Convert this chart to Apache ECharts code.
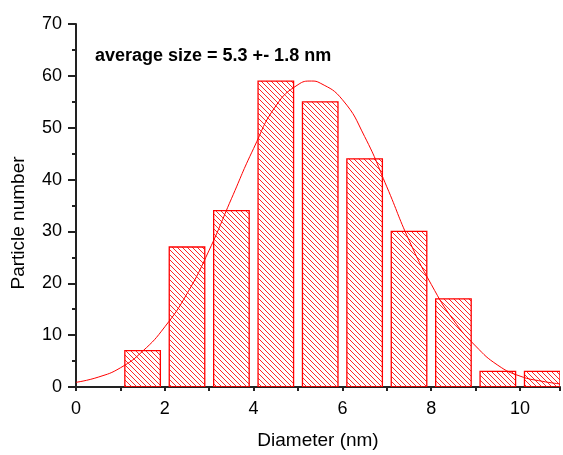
<!DOCTYPE html>
<html>
<head>
<meta charset="utf-8">
<script src="https://cdn.jsdelivr.net/npm/echarts@6/dist/echarts.min.js"></script>
<style>
  html, body { margin: 0; padding: 0; background: #fff; }
  #chart { width: 563px; height: 455px; }
</style>
</head>
<body>
<div id="chart"></div>
<script>
// histogram bins (centre of each bin) and counts
var binCentres = [1.5, 2.5, 3.5, 4.5, 5.5, 6.5, 7.5, 8.5, 9.5, 10.5];
var binCounts  = [7, 27, 34, 59, 55, 44, 30, 17, 3, 3];
var binWidth = 0.8;

// fitted curve
var fitX = [0, 0.5, 1, 1.5, 2, 2.5, 3, 3.5, 4, 4.5, 5, 5.3, 5.5, 6, 6.5, 7, 7.5, 8, 8.5, 9, 9.5, 10, 10.5, 10.9];
var fitY = [0.9, 1.9, 3.7, 6.9, 11.6, 18.0, 26.4, 36.3, 46.0, 54.2, 58.3, 59.0, 58.6, 55.4, 48.3, 38.6, 28.3, 19.8, 12.9, 7.9, 4.2, 2.1, 1.1, 0.6];

var xTicks = [0, 2, 4, 6, 8, 10];
var yTicks = [0, 10, 20, 30, 40, 50, 60, 70];

var RED = '#ff0000';

// hatch tile  (\\\ diagonal)
function makeHatch() {
  var c = document.createElement('canvas');
  var s = 5;
  c.width = s; c.height = s;
  var ctx = c.getContext('2d');
  ctx.strokeStyle = 'rgba(255,0,0,0.85)';
  ctx.lineWidth = 1;
  ctx.beginPath();
  ctx.moveTo(-1, -1); ctx.lineTo(s + 1, s + 1);
  ctx.moveTo(-1, s - 1); ctx.lineTo(1, s + 1);
  ctx.moveTo(s - 1, -1); ctx.lineTo(s + 1, 1);
  ctx.stroke();
  return c;
}
var hatch = { image: makeHatch(), repeat: 'repeat' };

var barData = [];
for (var i = 0; i < binCentres.length; i++) {
  barData.push([binCentres[i], binCounts[i]]);
}
var fitData = [];
for (var i = 0; i < fitX.length; i++) {
  fitData.push([fitX[i], fitY[i]]);
}

var chart = echarts.init(document.getElementById('chart'), null, { renderer: 'canvas' });

chart.setOption({
  animation: false,
  grid: { left: 76, right: 1, top: 24, bottom: 63, containLabel: false },
  xAxis: {
    type: 'value',
    min: 0, max: 10.9, interval: 2,
    name: 'Diameter (nm)',
    nameLocation: 'middle',
    nameGap: 44,
    nameTextStyle: { fontFamily: 'Liberation Sans', fontSize: 19, color: '#000', verticalAlign: 'top' },
    axisLine: { show: true, onZero: false, lineStyle: { color: '#222', width: 2 } },
    axisTick: { show: true, length: 4, lineStyle: { color: '#222', width: 2 } },
    minorTick: { show: true, splitNumber: 2, length: 4, lineStyle: { color: '#222', width: 2 } },
    axisLabel: {
      fontFamily: 'Liberation Sans', fontSize: 18, color: '#000', margin: 13,
      formatter: function (v) { return xTicks.indexOf(v) >= 0 ? String(v) : ''; }
    },
    splitLine: { show: false }
  },
  yAxis: {
    type: 'value',
    min: 0, max: 70, interval: 10,
    axisLine: { show: true, onZero: false, lineStyle: { color: '#222', width: 2 } },
    axisTick: { show: true, length: 8, lineStyle: { color: '#222', width: 2 } },
    minorTick: { show: true, splitNumber: 2, length: 4, lineStyle: { color: '#222', width: 2 } },
    axisLabel: {
      fontFamily: 'Liberation Sans', fontSize: 18, color: '#000', margin: 14,
      formatter: function (v) { return yTicks.indexOf(v) >= 0 ? String(v) : ''; }
    },
    splitLine: { show: false }
  },
  graphic: [
    {
      type: 'text', x: 19, y: 223, rotation: Math.PI / 2,
      style: {
        text: 'Particle number', font: '19px "Liberation Sans"', fill: '#000',
        textAlign: 'center', textVerticalAlign: 'middle'
      }
    },
    {
      type: 'text', left: 95, top: 47,
      style: {
        text: 'average size = 5.3 +- 1.8 nm', font: 'bold 18px "Liberation Sans"', fill: '#000'
      }
    }
  ],
  series: [
    {
      type: 'custom',
      clip: true,
      data: barData,
      renderItem: function (params, api) {
        var c = api.value(0), v = api.value(1);
        var p0 = api.coord([c - binWidth / 2, v]);
        var p1 = api.coord([c + binWidth / 2, 0]);
        return {
          type: 'rect',
          shape: { x: p0[0], y: p0[1], width: p1[0] - p0[0], height: p1[1] - p0[1] },
          style: { fill: hatch, stroke: RED, lineWidth: 1.3 }
        };
      }
    },
    {
      type: 'line',
      data: fitData,
      smooth: true,
      showSymbol: false,
      clip: true,
      lineStyle: { color: RED, width: 1 },
      z: 3
    }
  ]
});
</script>
</body>
</html>
